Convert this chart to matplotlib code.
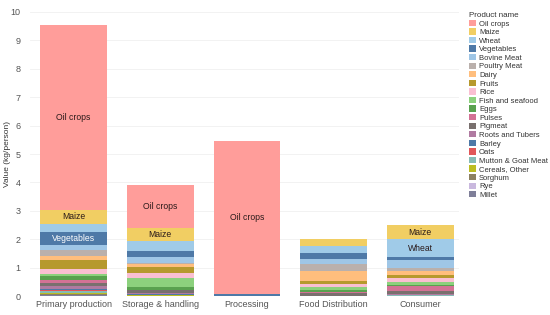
import numpy as np
import matplotlib
matplotlib.use("Agg")
import matplotlib.pyplot as plt
from matplotlib.patches import Patch

plt.rcParams['font.family'] = ['Liberation Sans', 'DejaVu Sans']

# ================= DATA =================
stages = ["Primary production", "Storage & handling", "Processing",
          "Food Distribution", "Consumer"]

products = ["Oil crops", "Maize", "Wheat", "Vegetables", "Bovine Meat",
            "Poultry Meat", "Dairy", "Fruits", "Rice", "Fish and seafood",
            "Eggs", "Pulses", "Pigmeat", "Roots and Tubers", "Barley", "Oats",
            "Mutton & Goat Meat", "Cereals, Other", "Sorghum", "Rye", "Millet"]

colors = ["#FF9D9A", "#F1CE63", "#A0CBE8", "#4E79A7", "#9FC6E6",
          "#BAB0AC", "#FFBE7D", "#B6992D", "#FABFD2", "#8CD17D",
          "#59A14F", "#D37295", "#79706E", "#B07AA1", "#4E79A7", "#E15759",
          "#86BCB6", "#BCBD22", "#8C8061", "#C9B8DE", "#7F7F99"]

# kg/person per product, same order as products
primary = [6.5, 0.5, 0.28, 0.47, 0.18, 0.2, 0.15, 0.32, 0.15, 0.1, 0.12,
           0.12, 0.1, 0.1, 0.05, 0.03, 0.05, 0.04, 0.03, 0.02, 0.03]
storage = [1.5, 0.46, 0.35, 0.23, 0.18, 0.05, 0.1, 0.2, 0.2, 0.3, 0.1,
           0.02, 0.1, 0.03, 0.03, 0.01, 0.01, 0.01, 0.01, 0.0, 0.01]
processing = [5.37, 0.01, 0.01, 0.0, 0.0, 0.0, 0.0, 0.0, 0.0, 0.0, 0.0,
              0.0, 0.0, 0.0, 0.05, 0.0, 0.0, 0.0, 0.0, 0.0, 0.02]
distribution = [0.0, 0.23, 0.27, 0.18, 0.18, 0.26, 0.35, 0.12, 0.1, 0.1, 0.08,
                0.02, 0.1, 0.01, 0.0, 0.0, 0.0, 0.0, 0.0, 0.0, 0.0]
consumer = [0.0, 0.5, 0.63, 0.1, 0.28, 0.12, 0.14, 0.09, 0.15, 0.1, 0.05,
            0.15, 0.12, 0.02, 0.02, 0.0, 0.01, 0.0, 0.01, 0.01, 0.0]

values = np.array([primary, storage, processing, distribution, consumer]).T

label_min = 0.45
light_text = {"Vegetables", "Barley"}

# ================= PLOT =================
fig = plt.figure(figsize=(5.5, 3.15), dpi=100)
ax = fig.add_axes([0.055, 0.06, 0.78, 0.902])

x = np.arange(len(stages))
bottom = np.zeros(len(stages))
# stack from the last legend entry up to the first
for i in range(len(products) - 1, -1, -1):
    ax.bar(x, values[i], 0.77, bottom=bottom, color=colors[i], linewidth=0,
           zorder=2)
    for j in range(len(stages)):
        if values[i, j] >= label_min:
            ax.text(x[j], bottom[j] + values[i, j] / 2, products[i],
                    ha="center", va="center", fontsize=6.2,
                    color="white" if products[i] in light_text else "#2a1a1a",
                    zorder=3)
    bottom += values[i]

ax.set_xlim(-0.5, 4.45)
ax.set_ylim(0, 10)
ax.set_yticks(range(0, 11))
ax.set_xticks(x)
ax.set_xticklabels(stages)
ax.tick_params(axis="both", length=0, labelsize=6.5, colors="#555555")
ax.tick_params(axis="x", pad=3)
ax.tick_params(axis="y", pad=7)
ax.set_ylabel("Value (kg/person)", fontsize=6, color="#333333")
ax.yaxis.set_label_coords(-0.044, 0.5)
ax.grid(axis="y", color="#f0f0f0", linewidth=0.6, zorder=0)
ax.set_axisbelow(True)
for s in ax.spines.values():
    s.set_visible(False)

handles = [Patch(facecolor=c, edgecolor="none") for c in colors]
leg = fig.legend(handles, products, title="Product name",
                 loc="upper left", bbox_to_anchor=(0.853, 0.962),
                 fontsize=5.5, title_fontsize=5.8, frameon=False,
                 handlelength=0.9, handleheight=0.9, handletextpad=0.4,
                 labelspacing=0.1, borderaxespad=0, borderpad=0)
leg._legend_box.align = "left"
for t in leg.get_texts():
    t.set_color("#333333")
leg.get_title().set_color("#333333")

fig.savefig("out.png", dpi=100)
